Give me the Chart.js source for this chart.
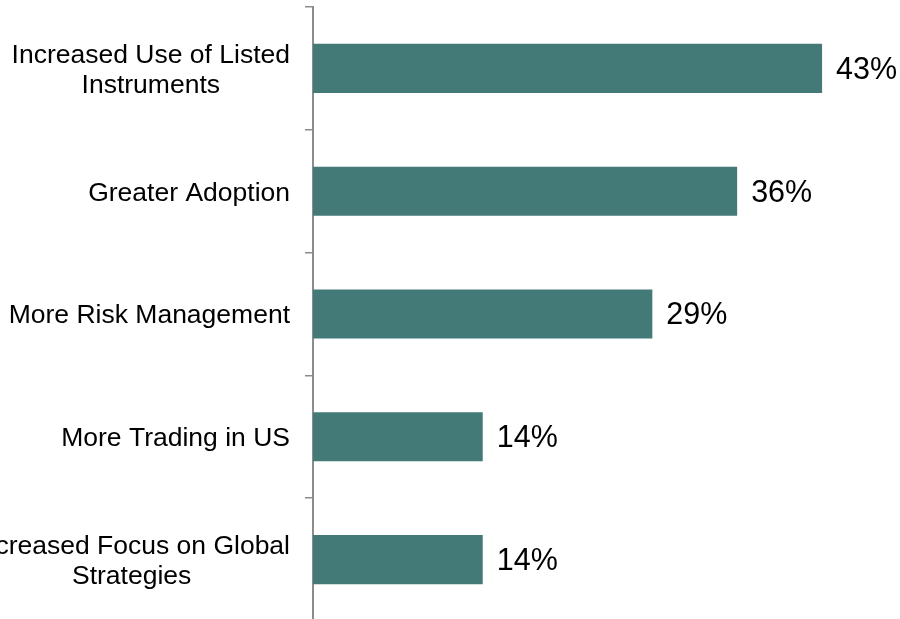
<!DOCTYPE html>
<html>
<head>
<meta charset="utf-8">
<script src="https://cdn.jsdelivr.net/npm/chart.js@4.4.0/dist/chart.umd.min.js"></script>
<style>
  html, body { margin: 0; padding: 0; background: #fff; overflow: hidden; }
  #wrap { width: 900px; height: 622px; position: relative; }
</style>
</head>
<body>
<div id="wrap"><canvas id="chart"></canvas></div>
<script>
// Categories (two-line ones kept as arrays) and share of respondents in %
const categories = [
  ["Increased Use of Listed", "Instruments"],
  ["Greater Adoption"],
  ["More Risk Management"],
  ["More Trading in US"],
  ["Increased Focus on Global", "Strategies"]
];
const values = [42.86, 35.71, 28.57, 14.29, 14.29];

const barColor = "#437a78";
const axisColor = "#8c8c8c";
const fontFamily = "'Liberation Sans', Arial, sans-serif";

// Draw category labels (block right-aligned, lines centred) and value labels
const labelPlugin = {
  id: "labels",
  afterDatasetsDraw(chart) {
    const ctx = chart.ctx;
    const meta = chart.getDatasetMeta(0);
    ctx.save();
    ctx.fillStyle = "#000";
    ctx.textBaseline = "middle";

    // category labels
    ctx.font = "26.5px " + fontFamily;
    const lineH = 30;
    const rightX = 290;
    meta.data.forEach((bar, i) => {
      const lines = categories[i];
      const w = Math.max(...lines.map(l => ctx.measureText(l).width));
      const cx = rightX - w / 2;
      const y0 = bar.y + 2 - (lines.length - 1) * lineH / 2;
      ctx.textAlign = "center";
      lines.forEach((l, j) => ctx.fillText(l, cx, y0 + j * lineH));
    });

    // value labels
    ctx.font = "30.5px " + fontFamily;
    ctx.textAlign = "left";
    meta.data.forEach((bar, i) => {
      ctx.fillText(Math.round(values[i]) + "%", bar.x + 14, bar.y + 2);
    });
    ctx.restore();
  }
};

new Chart(document.getElementById("chart").getContext("2d"), {
  type: "bar",
  data: {
    labels: categories,
    datasets: [{
      data: values,
      backgroundColor: barColor,
      borderWidth: 0,
      barPercentage: 0.4,
      categoryPercentage: 1.0
    }]
  },
  plugins: [labelPlugin],
  options: {
    indexAxis: "y",
    responsive: true,
    maintainAspectRatio: false,
    animation: false,
    layout: { padding: { top: 7, bottom: 1, left: 0, right: 5 } },
    plugins: {
      legend: { display: false },
      tooltip: { enabled: false }
    },
    scales: {
      x: {
        display: false,
        min: 0,
        max: 49
      },
      y: {
        afterFit: scale => { scale.width = 313; },
        ticks: { display: false },
        grid: {
          offset: true,
          drawOnChartArea: false,
          drawTicks: true,
          tickLength: 8,
          color: axisColor,
          lineWidth: 1.5
        },
        border: { display: true, color: axisColor, width: 2 }
      }
    }
  }
});
</script>
</body>
</html>
